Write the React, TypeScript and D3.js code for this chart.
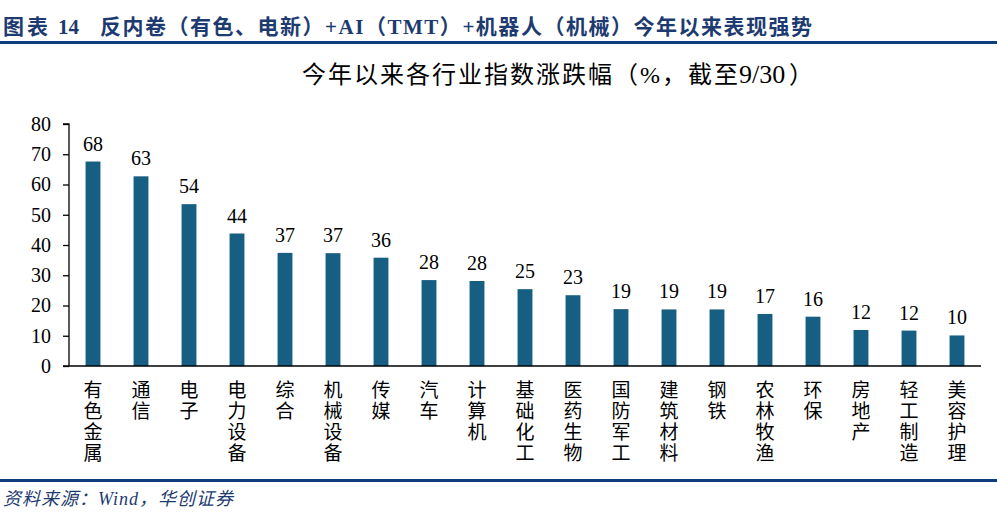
import * as d3 from "d3";
import { useEffect, useRef } from "react";

const categories = [
  "有色金属", "通信", "电子", "电力设备", "综合", "机械设备", "传媒", "汽车", "计算机",
  "基础化工", "医药生物", "国防军工", "建筑材料", "钢铁", "农林牧渔", "环保", "房地产",
  "轻工制造", "美容护理",
];
const values = [
  67.6, 62.7, 53.5, 43.8, 37.4, 37.3, 35.8, 28.4, 28.1, 25.4, 23.4, 18.8, 18.7, 18.7,
  17.2, 16.3, 11.9, 11.7, 10.1,
];
const yTicks = [0, 10, 20, 30, 40, 50, 60, 70, 80];

const headerLabel = "图表";
const headerNum = "14";
const headerText = "反内卷（有色、电新）+AI（TMT）+机器人（机械）今年以来表现强势";
const chartTitle = ["今年以来各行业指数涨跌幅（%，截至", "9/30", "）"];
const sourceText = "资料来源：Wind，华创证券";

const serif = "'Liberation Serif', 'Noto Sans CJK SC', serif";
const navy = "#0e3c7c";
const barColor = "#175e83";

const App = () => {
  const svgRef = useRef<SVGSVGElement>(null);

  useEffect(() => {
    const svg = d3.select(svgRef.current);
    svg.selectAll("*").remove();
    const width = 997;
    const height = 520;
    const margin = { left: 69, right: 16, top: 124, bottom: 154 };

    const x = d3.scaleBand<string>()
      .domain(categories)
      .range([margin.left, width - margin.right])
      .paddingInner(0.69)
      .paddingOuter(0.345);

    const y = d3.scaleLinear()
      .domain([0, 80])
      .range([height - margin.bottom, margin.top]);

    // header
    const head = (t: string, hx: number, len?: number) => {
      const el = svg.append("text")
        .attr("x", hx).attr("y", 34)
        .attr("font-family", serif).attr("font-size", 21).attr("font-weight", "bold")
        .attr("fill", "#1d3b70")
        .text(t);
      if (len) el.attr("textLength", len).attr("lengthAdjust", "spacing");
    };
    head(headerLabel, 3, 45);
    head(headerNum, 58);
    head(headerText, 100, 712);
    svg.append("rect").attr("x", 0).attr("y", 41).attr("width", width).attr("height", 3).attr("fill", navy);

    // chart title (three pieces so the digits keep their natural spacing)
    const title = (t: string, tx: number, size: number, len?: number) => {
      const el = svg.append("text")
        .attr("x", tx).attr("y", 83)
        .attr("font-family", serif).attr("font-size", size)
        .attr("fill", "#000")
        .text(t);
      if (len) el.attr("textLength", len).attr("lengthAdjust", "spacing");
    };
    title(chartTitle[0], 302, 24, 436);
    title(chartTitle[1], 739, 26);
    title(chartTitle[2], 789, 24);

    // bars
    svg.append("g")
      .selectAll("rect")
      .data(values)
      .join("rect")
      .attr("x", (_, i) => x(categories[i])!)
      .attr("y", (d) => y(d))
      .attr("width", x.bandwidth())
      .attr("height", (d) => y(0) - y(d))
      .attr("fill", barColor);

    // value labels
    svg.append("g")
      .selectAll("text")
      .data(values)
      .join("text")
      .attr("x", (_, i) => x(categories[i])! + x.bandwidth() / 2)
      .attr("y", (d) => y(d) - 11)
      .attr("text-anchor", "middle")
      .attr("font-family", serif).attr("font-size", 20)
      .text((d) => Math.round(d));

    // y axis
    const yAxis = svg.append("g")
      .attr("transform", `translate(${margin.left},0)`)
      .call(d3.axisLeft(y).tickValues(yTicks).tickSize(6).tickPadding(12).tickFormat(d3.format("d")));
    yAxis.selectAll("path, line").attr("stroke", "#000").attr("stroke-width", 1.3);
    yAxis.select(".domain").attr("d", `M-6,${y(80)}H0V${y(0)}`);
    yAxis.selectAll("text")
      .attr("font-family", serif).attr("font-size", 20).attr("fill", "#000");

    // x axis line
    svg.append("line")
      .attr("x1", margin.left - 6).attr("x2", width - margin.right)
      .attr("y1", y(0)).attr("y2", y(0))
      .attr("stroke", "#000").attr("stroke-width", 1.3);

    // x labels, vertical
    const xl = svg.append("g")
      .selectAll("text")
      .data(categories)
      .join("text")
      .attr("font-family", serif).attr("font-size", 19)
      .attr("text-anchor", "middle");
    xl.each(function (d) {
      const t = d3.select(this);
      const cx = x(d)! + x.bandwidth() / 2;
      Array.from(d).forEach((ch, j) => {
        t.append("tspan")
          .attr("x", cx)
          .attr("y", y(0) + 31 + j * 21)
          .text(ch);
      });
    });

    // footer
    svg.append("rect").attr("x", 0).attr("y", 479).attr("width", width).attr("height", 3).attr("fill", navy);
    svg.append("text")
      .attr("x", 3).attr("y", 505)
      .attr("font-family", serif).attr("font-size", 18).attr("font-style", "italic")
      .attr("textLength", 230).attr("lengthAdjust", "spacing")
      .attr("fill", "#1d3b70")
      .text(sourceText);
  }, []);

  return (
    <svg ref={svgRef} width={997} height={520}
      style={{ position: "absolute", left: 0, top: 0, background: "#fff" }} />
  );
};

export default App;
